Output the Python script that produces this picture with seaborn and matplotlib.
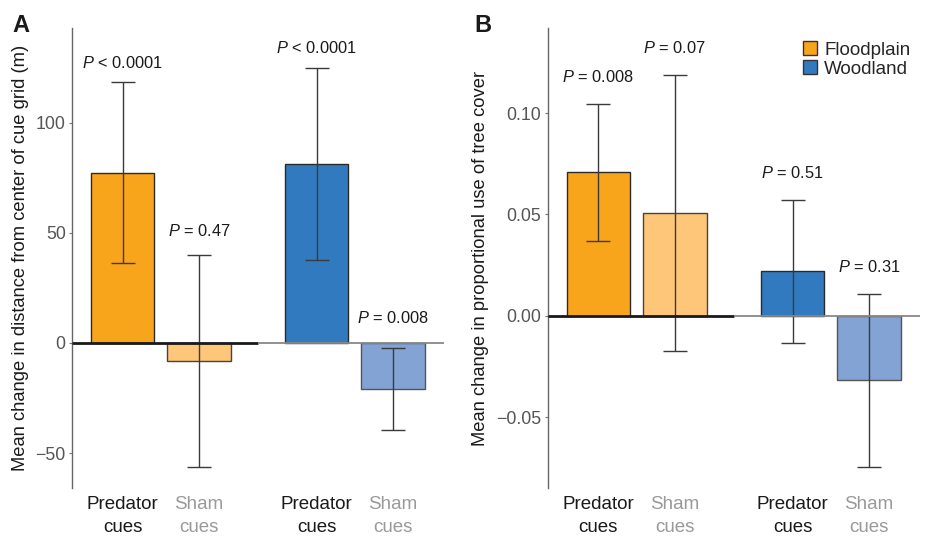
import matplotlib
matplotlib.use("Agg")
import matplotlib.pyplot as plt
import seaborn as sns
import pandas as pd
import numpy as np
from matplotlib.patches import Patch

sns.set_style("white")
plt.rcParams['font.family'] = ['Liberation Sans', 'DejaVu Sans']
plt.rcParams['mathtext.fontset'] = 'custom'
plt.rcParams['mathtext.it'] = 'Liberation Sans:italic'
plt.rcParams['mathtext.rm'] = 'Liberation Sans'

# ---- data ----
habitats = ["Floodplain", "Floodplain", "Woodland", "Woodland"]
cues = ["Predator\ncues", "Sham\ncues", "Predator\ncues", "Sham\ncues"]
bar_keys = ["FP", "FS", "WP", "WS"]

# Panel A: distance from center of cue grid (m)
a_mean = [77.2, -8.0, 81.0, -20.7]
a_low = [36.4, -56.2, 37.5, -39.5]
a_high = [118.2, 39.8, 124.6, -2.4]
a_p = ["< 0.0001", "= 0.47", "< 0.0001", "= 0.008"]
a_p_y = [127, 51, 134, 11.3]

# Panel B: proportional use of tree cover
b_mean = [0.0707, 0.0509, 0.0219, -0.0319]
b_low = [0.0371, -0.0176, -0.0135, -0.0748]
b_high = [0.1046, 0.1189, 0.0572, 0.0107]
b_p = ["= 0.008", "= 0.07", "= 0.51", "= 0.31"]
b_p_y = [0.1178, 0.1321, 0.0703, 0.024]

colors = {"FP": "#F9A51C", "FS": "#FEC679", "WP": "#317ABF", "WS": "#82A3D4"}
edges = {"FP": "#2a2a2a", "FS": "#444444", "WP": "#2a2a2a", "WS": "#555555"}

group_start = 2.54
positions = [0.0, 1.0, group_start, group_start + 1.0]

W, H = 926, 537
fig = plt.figure(figsize=(W / 100, H / 100), dpi=100)

def draw_panel(rect, means, lows, highs, pvals, py, ylim, yticks, yfmt, ylabel, letter, letter_x):
    ax = fig.add_axes(rect)
    df = pd.DataFrame({"pos": positions, "mean": means, "key": bar_keys})
    sns.barplot(data=df, x="pos", y="mean", hue="key", palette=colors,
                native_scale=True, dodge=False, width=0.83, errorbar=None,
                saturation=1, legend=False, ax=ax, linewidth=1.0, zorder=2)
    for patch, k in zip(ax.patches, bar_keys):
        patch.set_edgecolor(edges[k])
    m = np.array(means)
    yerr = [m - np.array(lows), np.array(highs) - m]
    ax.errorbar(positions, means, yerr=yerr, fmt="none", ecolor="#3a3a3a",
                elinewidth=1.0, capsize=8.3, capthick=1.0, zorder=3)
    xl = (-0.662, group_start + 1.0 + 0.665)
    mid = (positions[1] + positions[2]) / 2
    ax.plot([xl[0], mid], [0, 0], color="#1a1a1a", lw=2.0, zorder=4, solid_capstyle="butt")
    ax.plot([mid, xl[1]], [0, 0], color="#888888", lw=1.3, zorder=4, solid_capstyle="butt")
    ax.set_xlim(*xl)
    ax.set_ylim(*ylim)
    ax.set_yticks(yticks)
    ax.set_yticklabels([yfmt(v) for v in yticks])
    ax.set_xticks(positions)
    ax.set_xticklabels(cues, linespacing=1.45)
    for lab, k in zip(ax.get_xticklabels(), bar_keys):
        lab.set_color("#1a1a1a" if k in ("FP", "WP") else "#9a9a9a")
        lab.set_fontsize(13.5)
    ax.tick_params(axis="x", length=0, pad=6)
    ax.tick_params(axis="y", length=2.5, width=0.8, color="#777777", labelsize=12.8,
                   labelcolor="#555555", pad=2, left=True)
    ax.set_xlabel("")
    ax.set_ylabel(ylabel, fontsize=13.2, color="#1a1a1a", labelpad=5)
    for s in ("top", "right", "bottom"):
        ax.spines[s].set_visible(False)
    ax.spines["left"].set_color("#666666")
    ax.spines["left"].set_linewidth(1.0)
    for x, p, y in zip(positions, pvals, py):
        ax.text(x, y, r"$\mathit{P}$ " + p, ha="center", va="center",
                fontsize=11.8, color="#1a1a1a")
    fig.text(letter_x, 1 - 26 / H, letter, fontsize=17, fontweight="bold",
             ha="left", va="center", color="#1a1a1a")
    return ax

axA = draw_panel([72 / W, 1 - 488 / H, (444 - 72) / W, (488 - 28) / H],
                 a_mean, a_low, a_high, a_p, a_p_y,
                 (-65.8, 142.9), [-50, 0, 50, 100], lambda v: f"{v:.0f}".replace("-", "\u2212"),
                 "Mean change in distance from center of cue grid (m)", "A", 12 / W)

axB = draw_panel([547.7 / W, 1 - 488 / H, (920 - 547.7) / W, (488 - 28) / H],
                 b_mean, b_low, b_high, b_p, b_p_y,
                 (-0.085, 0.142), [-0.05, 0.0, 0.05, 0.10], lambda v: f"{v:.2f}".replace("-", "\u2212"),
                 "Mean change in proportional use of tree cover", "B", 474 / W)

handles = [Patch(facecolor=colors["FP"], edgecolor="#333333", label="Floodplain"),
           Patch(facecolor=colors["WP"], edgecolor="#333333", label="Woodland")]
axB.legend(handles=handles, loc="upper right", bbox_to_anchor=(1.01, 1.0), frameon=False,
           fontsize=13.5, handlelength=0.75, handleheight=0.75, handletextpad=0.4,
           labelspacing=0.1, borderaxespad=0.3)

fig.savefig("out.png", dpi=100)
